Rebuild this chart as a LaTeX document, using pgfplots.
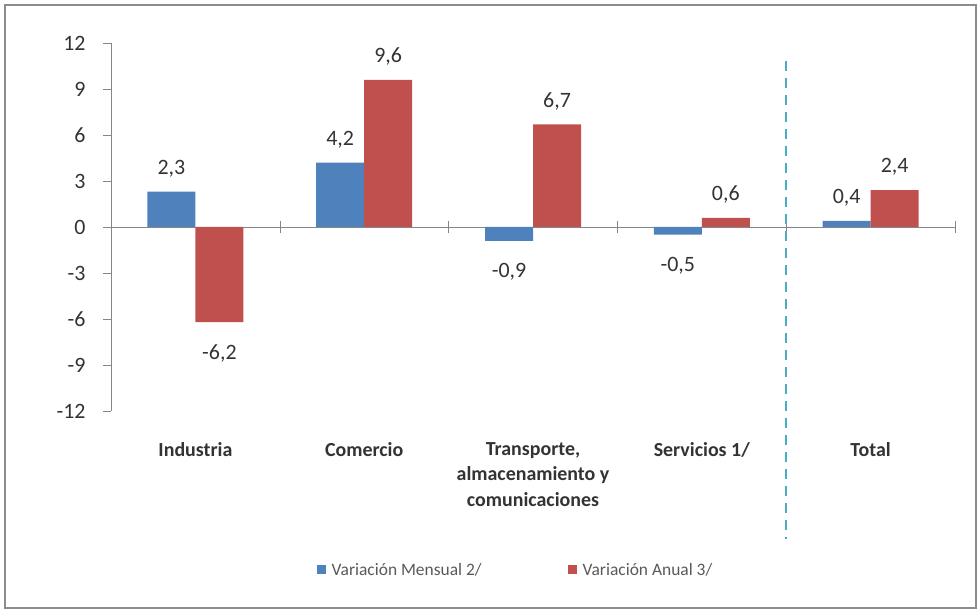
\documentclass[border=0pt]{standalone}
\usepackage{fontspec}
\setmainfont{Carlito}
\usepackage{pgfplots}
\pgfplotsset{compat=1.18}

\definecolor{barblue}{HTML}{4F81BD}
\definecolor{barred}{HTML}{C0504D}
\definecolor{sepcyan}{HTML}{4BACC6}
\definecolor{axgray}{HTML}{868686}
\definecolor{txt}{HTML}{333333}

\begin{document}
\begin{tikzpicture}[x=1bp,y=1bp]
\useasboundingbox (0,0) rectangle (979,612);
\draw[line width=2bp, color=black!45] (5,4) rectangle (976,607);
\begin{axis}[
  at={(111bp,201bp)}, anchor=south west,
  scale only axis, width=844bp, height=368bp,
  clip=false,
  ybar=0pt, bar width=48bp,
  xmin=-0.5, xmax=4.5, ymin=-12, ymax=12,
  axis x line=bottom, axis y line=left,
  x axis line style={draw=none},
  y axis line style={axgray, -},
  xtick={0,1,2,3,4},
  xticklabels={Industria, Comercio, {Transporte,\\almacenamiento y\\comunicaciones}, Servicios 1/, Total},
  x tick style={draw=none},
  xticklabel style={font=\bfseries\fontsize{20}{25.5}\selectfont, align=center, text=txt, anchor=north, yshift=-20bp},
  ytick={-12,-9,-6,-3,0,3,6,9,12},
  yticklabels={-12,-9,-6,-3,0,3,6,9,12},
  yticklabel style={font=\fontsize{22}{26}\selectfont, text=txt, xshift=-14bp},
  y tick style={axgray},
  tick align=outside, major tick length=8bp,
  point meta=explicit symbolic,
  visualization depends on=rawy \as \rawy,
  nodes near coords,
  every node near coord/.append style={font=\fontsize{22}{26}\selectfont, text=txt,
    text height=20bp, text depth=0bp, inner ysep=17bp},
  every node near coord/.append code={%
    \ifdim\rawy pt<0pt \pgfkeysalso{anchor=north}\else\pgfkeysalso{anchor=south}\fi},
  legend columns=2,
  legend style={at={(0.240,-0.432)}, anchor=west, draw=none, fill=none,
    font=\fontsize{17.5}{20}\selectfont, text=black!65,
    /tikz/every even column/.append style={column sep=84bp}},
  legend image code/.code={\fill[#1] (0bp,-4.5bp) rectangle (9bp,4.5bp); \path (13bp,0bp);},
]
\draw[axgray] (axis cs:-0.5,0) -- (axis cs:4.5,0);
\pgfplotsinvokeforeach{0.5,1.5,2.5,3.5,4.5}{
  \draw[axgray] ([yshift=-6bp]axis cs:#1,0) -- ([yshift=6bp]axis cs:#1,0);
}
\addplot[fill=barblue, draw=none] coordinates {
  (0,2.3) [2,3]
  (1,4.2) [4,2]
  (2,-0.9) [-0,9]
  (3,-0.5) [-0,5]
  (4,0.4) [0,4]
};
\addlegendentry{Variación Mensual 2/}
\addplot[fill=barred, draw=none] coordinates {
  (0,-6.2) [-6,2]
  (1,9.6) [9,6]
  (2,6.7) [6,7]
  (3,0.6) [0,6]
  (4,2.4) [2,4]
};
\addlegendentry{Variación Anual 3/}
\draw[sepcyan, line width=2.5bp, dash pattern=on 10bp off 7bp]
  (axis cs:3.5,10.8) -- (axis cs:3.5,-20.35);
\end{axis}
\end{tikzpicture}
\end{document}
